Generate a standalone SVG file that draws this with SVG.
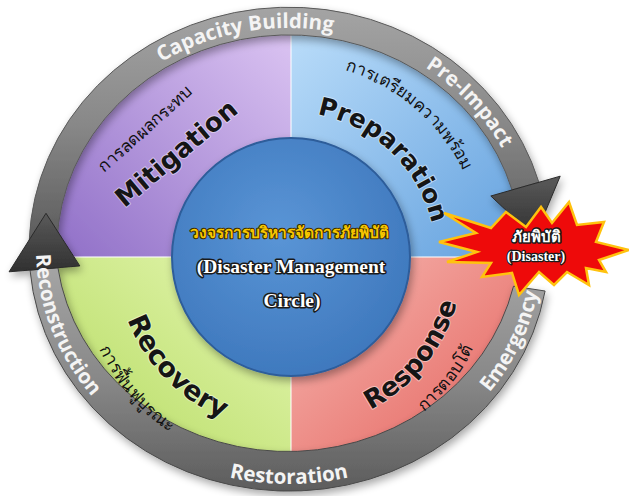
<svg xmlns="http://www.w3.org/2000/svg" width="629" height="496" viewBox="0 0 629 496">
<defs>
  <linearGradient id="gPurple" x1="1" y1="0" x2="0" y2="1">
    <stop offset="0" stop-color="#ddc6f3"/>
    <stop offset="1" stop-color="#8d6cc6"/>
  </linearGradient>
  <linearGradient id="gBlue" x1="0" y1="0" x2="1" y2="1">
    <stop offset="0" stop-color="#bcdefa"/>
    <stop offset="1" stop-color="#5f9edd"/>
  </linearGradient>
  <linearGradient id="gGreen" x1="1" y1="0" x2="0" y2="1">
    <stop offset="0" stop-color="#e6f7b4"/>
    <stop offset="1" stop-color="#b0d858"/>
  </linearGradient>
  <linearGradient id="gRed" x1="0" y1="0" x2="1" y2="1">
    <stop offset="0" stop-color="#f6b8b2"/>
    <stop offset="1" stop-color="#e35a54"/>
  </linearGradient>
  <linearGradient id="gRing" x1="0" y1="0" x2="0" y2="1">
    <stop offset="0" stop-color="#a4a4a4"/>
    <stop offset="0.5" stop-color="#888888"/>
    <stop offset="1" stop-color="#5c5c5c"/>
  </linearGradient>
  <linearGradient id="gArrow" x1="0" y1="0" x2="0" y2="1">
    <stop offset="0" stop-color="#5a5a5a"/>
    <stop offset="1" stop-color="#303030"/>
  </linearGradient>
  <radialGradient id="gCenter" cx="0.45" cy="0.4" r="0.6">
    <stop offset="0" stop-color="#5a95d6"/>
    <stop offset="1" stop-color="#3f79be"/>
  </radialGradient>
  <clipPath id="disk"><ellipse cx="289" cy="249" rx="234" ry="216"/></clipPath>
  <filter id="shadow" x="-10%" y="-10%" width="120%" height="125%">
    <feGaussianBlur in="SourceAlpha" stdDeviation="4"/>
    <feOffset dx="2" dy="4"/>
    <feComponentTransfer><feFuncA type="linear" slope="0.35"/></feComponentTransfer>
    <feMerge><feMergeNode/><feMergeNode in="SourceGraphic"/></feMerge>
  </filter>
  <!-- ring text paths -->
  <path id="pCap" d="M 120.0 92.7 A 239 221 0 0 1 382.4 45.6"/>
  <path id="pPre" d="M 401.2 53.9 A 239 221 0 0 1 513.6 173.4"/>
  <path id="pRes" d="M 202.5 469.8 A 253 235 0 0 0 375.5 469.8"/>
  <path id="pEme" d="M 467.9 415.2 A 253 235 0 0 0 541.7 261.3"/>
  <path id="pRec" d="M 37.0 228.5 A 253 235 0 0 0 110.1 415.2"/>
  <!-- quadrant text paths -->
  <path id="pPrep" d="M 265.8 114.2 A 145 145 0 0 1 434.9 274.7"/>
  <path id="pPrepT" d="M 239.0 70.0 A 191 191 0 0 1 481.0 275.0"/>
  <path id="pRecov" d="M 118.7 226.6 A 175 175 0 0 0 315.4 430.3"/>
  <path id="pRecovT" d="M 78.6 240.3 A 213 213 0 0 0 274.3 469.3"/>
  <path id="pResp" d="M 294.0 429.0 A 172 172 0 0 0 459.8 224.2"/>
  <path id="pRespT" d="M 333.4 456.6 A 204 204 0 0 0 494.9 249.9"/>
</defs>
<style>
  .ringtxt{font-family:"Open Sans","DejaVu Sans",sans-serif;font-weight:bold;font-size:20.5px;fill:#f4f4f4}
  .big{font-family:"DejaVu Sans",sans-serif;font-weight:bold;fill:#151515;stroke:#ffffff;stroke-opacity:0.45;stroke-width:2;paint-order:stroke;stroke-linejoin:round}
  .thai{font-family:"Noto Sans","DejaVu Sans",sans-serif;font-size:17px;fill:#111111}
  .ctr{font-family:"Liberation Serif",serif;font-weight:bold;fill:#ffffff;stroke:#1a1a1a;stroke-width:3;paint-order:stroke;stroke-linejoin:round}
  .ctrthai{font-family:"Noto Sans","DejaVu Sans",sans-serif;font-weight:bold;fill:#f7c600;stroke:#3a2a00;stroke-width:2;paint-order:stroke;stroke-linejoin:round}
  .divider{stroke:#ffffff;stroke-opacity:0.7;stroke-width:1.5}
  .arrowhead{fill:url(#gArrow);stroke:#2a2a2a;stroke-width:1}
</style>

<g id="quadrants" clip-path="url(#disk)" filter="url(#shadow)">
  <rect id="mitigation-bg" x="40" y="20" width="251" height="237" fill="url(#gPurple)"/>
  <rect id="preparation-bg" x="291" y="20" width="250" height="237" fill="url(#gBlue)"/>
  <rect id="recovery-bg" x="40" y="257" width="251" height="220" fill="url(#gGreen)"/>
  <rect id="response-bg" x="291" y="257" width="250" height="220" fill="url(#gRed)"/>
  <line class="divider" x1="291" y1="20" x2="291" y2="477"/>
  <line class="divider" x1="40" y1="257" x2="541" y2="257"/>
</g>

<g id="connectors" filter="url(#shadow)">
  <path id="ring-top" d="M 29.2 240.6 A 260 242 0 0 1 538.9 182.3 L 512.0 190.0 A 232 214 0 0 0 57.1 241.5 Z" fill="url(#gRing)" stroke="#5a5a5a" stroke-width="1"/>
  <polygon class="arrowhead" points="560.2,176.2 534.7,237.1 490.8,196.0"/>
  <path id="ring-bottom" d="M 545.1 291.0 A 260 242 0 0 1 30.0 270.1 L 57.9 267.7 A 232 214 0 0 0 513.5 286.2 Z" fill="url(#gRing)" stroke="#4a4a4a" stroke-width="1"/>
  <polygon class="arrowhead" points="9.1,271.8 46.0,213.3 79.8,265.9"/>
</g>

<g id="ring-labels">
  <text class="ringtxt" text-anchor="middle"><textPath href="#pCap" startOffset="50%">Capacity Building</textPath></text>
  <text class="ringtxt" text-anchor="middle"><textPath href="#pPre" startOffset="50%">Pre-Impact</textPath></text>
  <text class="ringtxt" text-anchor="middle"><textPath href="#pRes" startOffset="50%">Restoration</textPath></text>
  <text class="ringtxt" text-anchor="middle"><textPath href="#pEme" startOffset="50%">Emergency</textPath></text>
  <text class="ringtxt" text-anchor="middle"><textPath href="#pRec" startOffset="50%">Reconstruction</textPath></text>
</g>

<g id="node-mitigation">
  <text class="big" font-size="26" text-anchor="middle" transform="translate(182,160) rotate(-40)">Mitigation</text>
  <text class="thai" text-anchor="middle" transform="translate(149,133) rotate(-42)">การลดผลกระทบ</text>
</g>

<g id="node-preparation">
  <text class="big" font-size="25" text-anchor="middle"><textPath href="#pPrep" startOffset="50%">Preparation</textPath></text>
  <text class="thai" text-anchor="middle"><textPath href="#pPrepT" startOffset="50%">การเตรียมความพร้อม</textPath></text>
</g>

<g id="node-recovery">
  <text class="big" font-size="27" text-anchor="middle"><textPath href="#pRecov" startOffset="50%">Recovery</textPath></text>
  <text class="thai" text-anchor="middle"><textPath href="#pRecovT" startOffset="50%">การฟื้นฟูบูรณะ</textPath></text>
</g>

<g id="node-response">
  <text class="big" font-size="26" text-anchor="middle"><textPath href="#pResp" startOffset="50%">Response</textPath></text>
  <text class="thai" text-anchor="middle"><textPath href="#pRespT" startOffset="50%">การตอบโต้</textPath></text>
</g>

<g id="node-center">
  <circle cx="291" cy="257" r="119" fill="url(#gCenter)" stroke="#2d5d9a" stroke-width="2" filter="url(#shadow)"/>
  <text class="ctrthai" x="289" y="238" font-size="15.5" text-anchor="middle">วงจรการบริหารจัดการภัยพิบัติ</text>
  <text class="ctr" x="291" y="273" font-size="19.5" text-anchor="middle">(Disaster Management</text>
  <text class="ctr" x="292" y="307" font-size="19.5" text-anchor="middle">Circle)</text>
</g>

<g id="node-disaster">
  <polygon points="439,242 476,233 444,213 491,228 506,212 526,227 541,207 552,223 569,202 577,225 604,222 596,242 629,250 599,260 606,272 586,268 589,285 567,272 554,285 539,272 519,295 512,273 482,277 491,263 447,262 477,252" fill="#ee0a0a" stroke="#ffc20e" stroke-width="2.5" stroke-linejoin="miter"/>
  <text class="ctr" x="536" y="242" font-size="15" text-anchor="middle" style="font-family:'Noto Sans','DejaVu Sans',sans-serif">ภัยพิบัติ</text>
  <text class="ctr" x="536" y="261" font-size="14" text-anchor="middle" style="stroke-width:2.5">(Disaster)</text>
</g>
</svg>
